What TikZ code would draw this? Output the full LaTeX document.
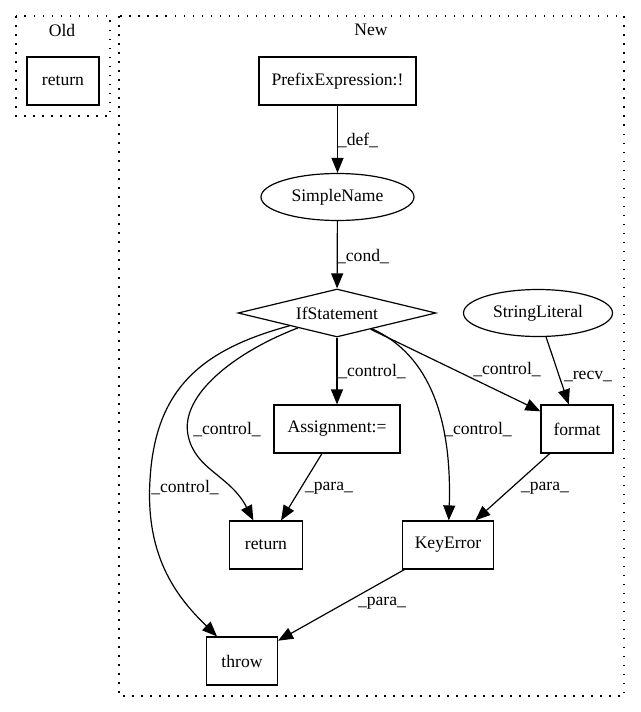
\documentclass[tikz,border=0pt]{standalone}
\usepackage{fontspec}
\setmainfont{Liberation Serif}
\usetikzlibrary{shapes.geometric,arrows.meta}
\tikzset{
  box/.style={draw, rectangle, line width=1.2pt, minimum width=#1, minimum height=48pt, inner sep=0pt},
  ell/.style={draw, ellipse, line width=1.2pt, minimum width=#1, minimum height=47pt, inner sep=0pt},
  dia/.style={draw, diamond, line width=1.2pt, shape aspect=4.125, minimum width=198pt, minimum height=48pt, inner sep=0pt},
  edge/.style={line width=1.2pt, -{Triangle[length=15pt,width=12pt]}},
  lbl/.style={inner sep=0pt},
  cluster/.style={line width=1.3pt, dash pattern=on 1.5pt off 7.5pt}
}
\begin{document}
\begin{tikzpicture}[x=1pt, y=-1pt, font=\fontsize{17.6}{21}\selectfont]
\useasboundingbox (0,0) rectangle (640,712);
% clusters
\draw[cluster] (16,16) rectangle (110,116);
\draw[cluster] (119,16) rectangle (624,696);
\node[lbl] (oldlbl) at (62,30) {Old};
\node[lbl] (newlbl) at (371,30) {New};
% nodes
\node[box=72pt] (oldret) at (63,81) {return};
\node[box=157pt] (pre) at (337.5,81) {PrefixExpression:!};
\node[ell=153pt] (sn) at (337.5,197) {SimpleName};
\node[dia] (if) at (337,313) {IfStatement};
\node[ell=149pt] (sl) at (538,313) {StringLiteral};
\node[box=126pt] (asg) at (337,429) {Assignment:=};
\node[box=72pt] (fmt) at (577,429) {format};
\node[box=73pt] (ret) at (266,545) {return};
\node[box=91pt] (ke) at (448,545) {KeyError};
\node[box=71pt] (thr) at (242,661) {throw};
% edges
\draw[edge] (pre) -- (sn);
\draw[edge] (sn) -- (if);
\draw[edge] (if) -- (asg);
\draw[edge] (if) .. controls (235,352) and (180,395) .. (188,435) .. controls (195,470) and (230,475) .. (ret);
\draw[edge] (if) .. controls (200,350) and (155,390) .. (150,480) .. controls (145,560) and (180,600) .. (thr);
\draw[edge] (if) .. controls (430,355) and (452,420) .. (ke);
\draw[edge] (if) -- (fmt);
\draw[edge] (sl) -- (fmt);
\draw[edge] (asg) -- (ret);
\draw[edge] (fmt) -- (ke);
\draw[edge] (ke) -- (thr);
% labels
\node[lbl] (l1) at (358,140) {\_def\_};
\node[lbl] (l2) at (363,257) {\_cond\_};
\node[lbl] (l3) at (372,372) {\_control\_};
\node[lbl] (l4) at (227,430) {\_control\_};
\node[lbl] (l5) at (185,488) {\_control\_};
\node[lbl] (l6) at (329,488) {\_para\_};
\node[lbl] (l7) at (478,430) {\_control\_};
\node[lbl] (l8) at (507,370) {\_control\_};
\node[lbl] (l9) at (588,376) {\_recv\_};
\node[lbl] (l10) at (545,488) {\_para\_};
\node[lbl] (l11) at (382,603) {\_para\_};
\end{tikzpicture}
\end{document}
